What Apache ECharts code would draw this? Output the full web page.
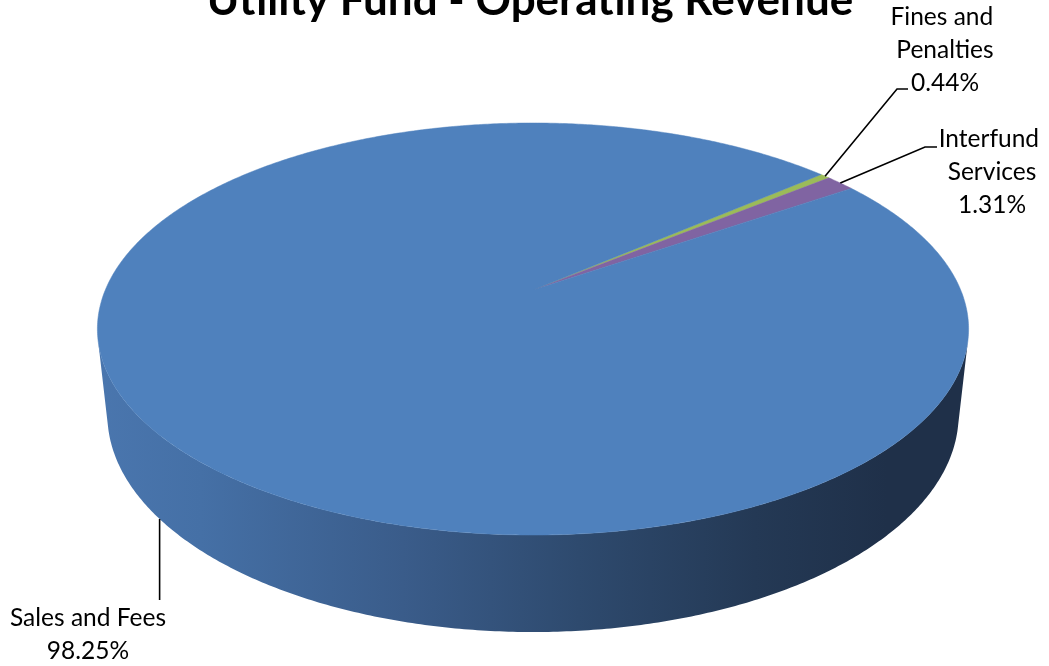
<!DOCTYPE html>
<html>
<head>
<meta charset="utf-8">
<script src="https://cdn.jsdelivr.net/npm/echarts@6/dist/echarts.min.js"></script>
<style>
  html, body { margin: 0; padding: 0; background: #ffffff; }
  #chart { width: 1049px; height: 666px; }
</style>
</head>
<body>
<div id="chart"></div>
<script>
// Revenue categories and their shares (percent of operating revenue)
const categories = ['Fines and Penalties', 'Interfund Services', 'Sales and Fees'];
const shares = [0.44, 1.31, 98.25];
const sliceColors = ['#9bbb59', '#8064a2', '#4f81bd'];
const chartTitle = 'Utility Fund - Operating Revenue';

// Perspective camera for the tilted disc (unit radius, thickness in radius units)
const view = { cx: 533, cy: 290, focal: 2000, dist: 4.676, tilt: 27.67, thickness: 0.228, startAngle: 49.2 };

// Where each label block sits and how its leader line bends
const labelLayout = [
  { elbow: [897, 89], end: [908, 89], text: [945, 50], width: 120 },
  { elbow: [925, 147], end: [937, 147], text: [992, 172], width: 120 },
  { drop: 600, text: [88, 635], width: 220 }
];

const FONT = 'Lato, "Noto Sans", sans-serif';
const tiltRad = view.tilt * Math.PI / 180;
const sinT = Math.sin(tiltRad), cosT = Math.cos(tiltRad);

function project(X, Y, Z) {
  const d = view.dist + Y * cosT - Z * sinT;
  return [view.cx + view.focal * X / d, view.cy - view.focal * (Y * sinT + Z * cosT) / d];
}
function rimPoint(deg, Z) {
  const r = deg * Math.PI / 180;
  return project(Math.sin(r), Math.cos(r), Z);
}
function arcPoints(a0, a1, Z) {
  const n = Math.max(2, Math.ceil((a1 - a0) / 0.5));
  const pts = [];
  for (let i = 0; i <= n; i++) pts.push(rimPoint(a0 + (a1 - a0) * i / n, Z));
  return pts;
}

const total = shares.reduce((a, b) => a + b, 0);
const bounds = [];
(function () {
  let acc = view.startAngle;
  shares.forEach(v => {
    const span = v / total * 360;
    bounds.push([acc, acc + span]);
    acc += span;
  });
})();

// the outer wall faces the camera where cos(angle) < -1 / (dist * cos(tilt))
const wallLimit = Math.acos(-1 / (view.dist * cosT)) * 180 / Math.PI;

const wallFill = {
  type: 'linear', x: 95, y: 0, x2: 975, y2: 0, global: true,
  colorStops: [
    { offset: 0, color: '#4a76ae' },
    { offset: 0.12, color: '#4570a6' },
    { offset: 0.35, color: '#3a5c8a' },
    { offset: 0.55, color: '#2e4a6e' },
    { offset: 0.75, color: '#243955' },
    { offset: 0.9, color: '#1f3049' },
    { offset: 1, color: '#1f3049' }
  ]
};

function renderSlice(params, api) {
  const i = params.dataIndex;
  const [a0, a1] = bounds[i];
  const children = [];

  // visible part of the outer wall
  for (let k = 0; k < 2; k++) {
    const lo = Math.max(a0, wallLimit + 360 * k);
    const hi = Math.min(a1, 360 - wallLimit + 360 * k);
    if (hi > lo) {
      const top = arcPoints(lo, hi, 0);
      const bottom = arcPoints(lo, hi, -view.thickness).reverse();
      children.push({
        type: 'polygon', z2: 1,
        shape: { points: top.concat(bottom) },
        style: { fill: i === 2 ? wallFill : api.visual('color'), stroke: null }
      });
    }
  }

  // top face
  const apex = project(0, 0, 0);
  children.push({
    type: 'polygon', z2: 2,
    shape: { points: [apex].concat(arcPoints(a0, a1, 0)) },
    style: { fill: sliceColors[i], stroke: sliceColors[i], lineWidth: 0.5 }
  });

  // label with leader line
  const lay = labelLayout[i];
  const mid = (a0 + a1) / 2;
  let linePts;
  if (lay.drop !== undefined) {
    const p = rimPoint(mid, -view.thickness);
    linePts = [p, [p[0], lay.drop]];
  } else {
    const p = rimPoint(mid, 0);
    linePts = [p, lay.elbow, lay.end];
  }
  children.push({
    type: 'polyline', z2: 3,
    shape: { points: linePts },
    style: { stroke: '#000000', lineWidth: 1.6, fill: null }
  });
  const pct = (shares[i] / total * 100).toFixed(2) + '%';
  children.push({
    type: 'text', z2: 3,
    style: {
      text: categories[i] + '\n' + pct,
      x: lay.text[0], y: lay.text[1],
      align: 'center', verticalAlign: 'middle',
      width: lay.width, overflow: 'break',
      fontFamily: FONT, fontSize: 24.5, lineHeight: 33,
      fill: '#000000'
    }
  });

  return { type: 'group', children: children };
}

const chart = echarts.init(document.getElementById('chart'), null, { renderer: 'canvas' });
chart.setOption({
  animation: false,
  backgroundColor: '#ffffff',
  graphic: [{
    type: 'text',
    style: {
      text: chartTitle,
      x: 530, y: 22.5,
      align: 'center', verticalAlign: 'bottom',
      fontFamily: FONT, fontWeight: 'bold', fontSize: 44,
      fill: '#000000'
    }
  }],
  series: [{
    type: 'custom',
    coordinateSystem: 'none',
    renderItem: renderSlice,
    data: shares.map((v, i) => ({ name: categories[i], value: v, itemStyle: { color: sliceColors[i] } }))
  }]
});
</script>
</body>
</html>
